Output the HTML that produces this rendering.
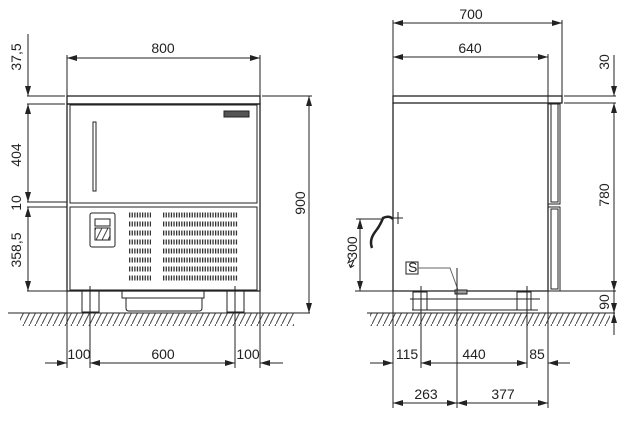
<!DOCTYPE html><html><head><style>body{margin:0;background:#fff}svg{display:block}text{font-family:"Liberation Sans",sans-serif;font-size:14px;fill:#222}</style></head><body>
<svg width="637" height="422" viewBox="0 0 637 422">
<defs>
<marker id="a" viewBox="0 0 10 6" refX="10" refY="3" markerWidth="10" markerHeight="6" orient="auto-start-reverse" markerUnits="userSpaceOnUse"><path d="M0,0L10,3L0,6z" fill="#222"/></marker>
<pattern id="h" width="6" height="12" patternUnits="userSpaceOnUse"><path d="M6,0L0,12" stroke="#444" stroke-width="1"/></pattern>
</defs>
<g stroke="#222" fill="none" stroke-width="1">
<!-- FRONT -->
<rect x="20" y="313" width="274" height="13" fill="url(#h)" stroke="none"/>
<line x1="8" y1="313" x2="310" y2="313"/>
<rect x="67" y="96" width="193" height="8" stroke-width="1.3"/>
<rect x="67" y="104" width="193" height="187" stroke-width="1.3"/>
<rect x="70" y="105" width="187" height="98"/>
<rect x="70" y="207" width="187" height="83"/>
<rect x="93" y="122" width="3" height="69"/>
<rect x="224" y="111" width="25" height="6" fill="#555"/>
<rect x="90" y="213" width="25" height="34" rx="2"/>
<rect x="95" y="219" width="15" height="7"/>
<rect x="95" y="228" width="15" height="12" fill="url(#h)"/>
<g stroke="#333" stroke-width="5">
<path d="M129,215h22M129,224h22M129,233h22M129,242h22M129,251h22M129,260h22M129,269h22M129,278h22" stroke-dasharray="1.3 1.3"/>
<path d="M163,215h75M163,224h75M163,233h75M163,242h75M163,251h75M163,260h75M163,269h75M163,278h75" stroke-dasharray="1.3 1.3"/>
</g>
<rect x="82" y="291" width="17" height="21"/><rect x="227" y="291" width="17" height="21"/>
<path d="M122,291v7h82v-7M126,298v10q0,3 3,3h70q3,0 3,-3v-10"/>
<!-- front dims -->
<line x1="28" y1="34" x2="28" y2="96" marker-end="url(#a)"/>
<line x1="28" y1="104" x2="28" y2="202" marker-start="url(#a)" marker-end="url(#a)"/>
<line x1="28" y1="207" x2="28" y2="291" marker-start="url(#a)" marker-end="url(#a)"/>
<path d="M27,96h38M27,104h38M27,202h40M27,207h40M27,291h40"/>
<line x1="67" y1="58" x2="260" y2="58" marker-start="url(#a)" marker-end="url(#a)"/>
<path d="M67,55v41M260,55v41"/>
<path d="M262,96h50"/>
<line x1="309" y1="96" x2="309" y2="313" marker-start="url(#a)" marker-end="url(#a)"/>
<path d="M67,291v77M90,286v82M235,286v82M260,291v77"/>
<line x1="45" y1="363" x2="67" y2="363" marker-end="url(#a)"/>
<line x1="90" y1="363" x2="235" y2="363" marker-start="url(#a)" marker-end="url(#a)"/>
<line x1="283" y1="363" x2="260" y2="363" marker-end="url(#a)"/>
<!-- SIDE -->
<rect x="370" y="313" width="240" height="13" fill="url(#h)" stroke="none"/>
<line x1="367" y1="313" x2="615" y2="313"/>
<rect x="393" y="96" width="169" height="7" stroke-width="1.3"/>
<path d="M393,103v188h155v-188" stroke-width="1.3"/>
<rect x="548" y="104" width="12" height="100"/><rect x="551" y="104" width="7" height="98"/>
<rect x="548" y="207" width="12" height="84"/><rect x="551" y="209" width="7" height="80"/>
<path d="M409,291h132M410,299h130M412,310h126"/>
<rect x="413" y="292" width="14" height="18"/><rect x="517" y="292" width="14" height="18"/>
<rect x="455" y="290" width="12" height="4" fill="#999"/>
<rect x="406" y="262" width="12" height="12"/>
<path d="M418,268h32l8,22" stroke="#666"/>
<path d="M372,248q-3,-8 3,-16q5,-6 8,-14q6,-3 10,1" stroke-width="2.5"/>
<path d="M393,218h10M398,212v12"/>
<line x1="360" y1="219" x2="360" y2="291" marker-start="url(#a)" marker-end="url(#a)"/>
<path d="M356,219h25M355,291h38"/>
<line x1="393" y1="23" x2="562" y2="23" marker-start="url(#a)" marker-end="url(#a)"/>
<line x1="393" y1="57" x2="548" y2="57" marker-start="url(#a)" marker-end="url(#a)"/>
<path d="M393,20v76M562,20v76M548,54v50"/>
<path d="M564,96h52M564,103h52M550,291h66"/>
<line x1="614" y1="55" x2="614" y2="96" marker-end="url(#a)"/>
<line x1="614" y1="103" x2="614" y2="291" marker-start="url(#a)" marker-end="url(#a)"/>
<line x1="614" y1="291" x2="614" y2="313" marker-end="url(#a)"/>
<line x1="614" y1="335" x2="614" y2="313" marker-end="url(#a)"/>
<path d="M393,291v117M421,286v82M457,268v140M527,286v82M548,291v117"/>
<line x1="370" y1="363" x2="393" y2="363" marker-end="url(#a)"/>
<line x1="421" y1="363" x2="527" y2="363" marker-start="url(#a)" marker-end="url(#a)"/>
<line x1="570" y1="363" x2="548" y2="363" marker-end="url(#a)"/>
<line x1="393" y1="403" x2="457" y2="403" marker-start="url(#a)" marker-end="url(#a)"/>
<line x1="457" y1="403" x2="548" y2="403" marker-start="url(#a)" marker-end="url(#a)"/>
</g>
<text x="408" y="272" font-size="11">S</text>
<text x="163" y="53" text-anchor="middle">800</text>
<text x="21" y="57" transform="rotate(-90 21 57)" text-anchor="middle">37,5</text>
<text x="21" y="155" transform="rotate(-90 21 155)" text-anchor="middle">404</text>
<text x="21" y="203" transform="rotate(-90 21 203)" text-anchor="middle">10</text>
<text x="21" y="250" transform="rotate(-90 21 250)" text-anchor="middle">358,5</text>
<text x="305" y="203" transform="rotate(-90 305 203)" text-anchor="middle">900</text>
<text x="79" y="359" text-anchor="middle">100</text>
<text x="163" y="359" text-anchor="middle">600</text>
<text x="248" y="359" text-anchor="middle">100</text>
<text x="471" y="19" text-anchor="middle">700</text>
<text x="470" y="53" text-anchor="middle">640</text>
<text x="609" y="62" transform="rotate(-90 609 62)" text-anchor="middle">30</text>
<text x="609" y="195" transform="rotate(-90 609 195)" text-anchor="middle">780</text>
<text x="609" y="302" transform="rotate(-90 609 302)" text-anchor="middle">90</text>
<text x="357" y="248" transform="rotate(-90 357 248)" text-anchor="middle">300</text>
<text x="407" y="359" text-anchor="middle">115</text>
<text x="474" y="359" text-anchor="middle">440</text>
<text x="537" y="359" text-anchor="middle">85</text>
<text x="426" y="399" text-anchor="middle">263</text>
<text x="503" y="399" text-anchor="middle">377</text>
<text x="344" y="268" font-size="12" font-style="italic">↯</text>
</svg></body></html>
